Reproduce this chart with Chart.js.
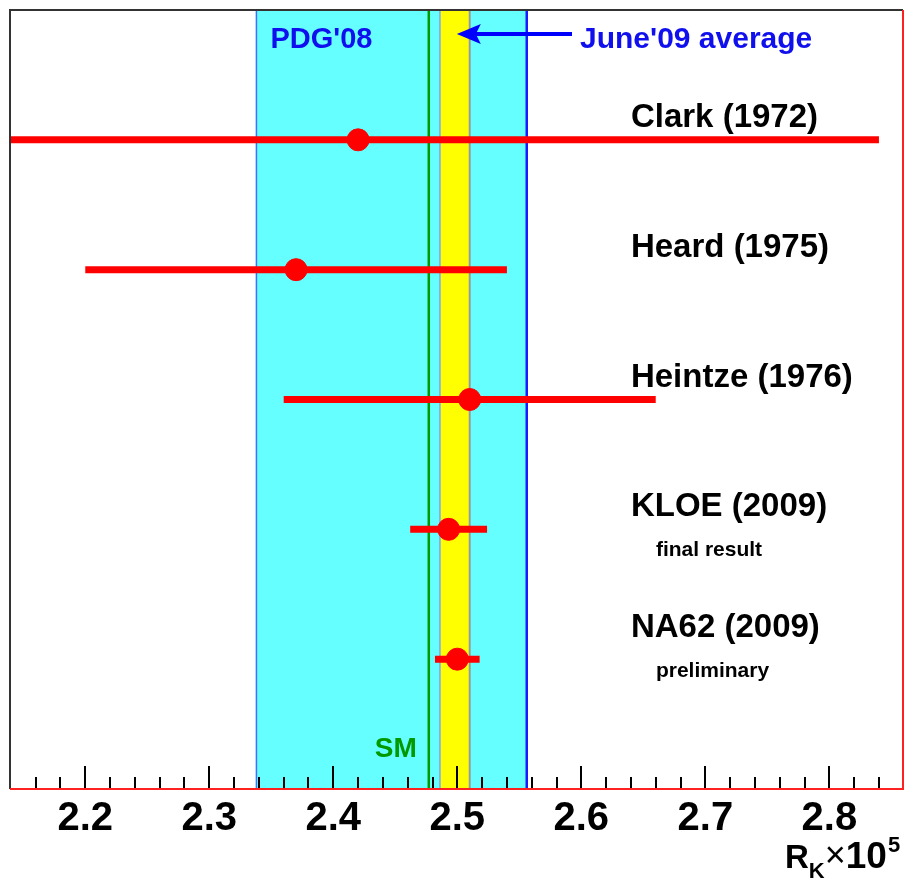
<!DOCTYPE html>
<html>
<head>
<meta charset="utf-8">
<script src="https://cdn.jsdelivr.net/npm/chart.js@4.4.0/dist/chart.umd.min.js"></script>
<style>
html, body { margin: 0; padding: 0; background: #ffffff; }
canvas { display: block; }
</style>
</head>
<body>
<canvas id="myChart" width="905" height="881"></canvas>
<script>
// measurements of R_K x 10^5, top row first
var experiments = ["Clark (1972)", "Heard (1975)", "Heintze (1976)", "KLOE (2009)", "NA62 (2009)"];
var notes = ["", "", "", "final result", "preliminary"];
var rkValues = [2.42, 2.37, 2.51, 2.493, 2.500];
var rkErrors = [0.42, 0.17, 0.15, 0.031, 0.018];

var pdgBand = [2.338, 2.556];      // PDG'08
var averageBand = [2.486, 2.510];  // June'09 average
var averageValue = 2.498;
var smValue = 2.477;

var tickValues = [2.2, 2.3, 2.4, 2.5, 2.6, 2.7, 2.8];
var tickLabels = ["2.2", "2.3", "2.4", "2.5", "2.6", "2.7", "2.8"];
var xRange = [2.1393, 2.8594];

var FONT = "'Liberation Sans', Arial, Helvetica, sans-serif";

function rowOf(i) {
    return experiments.length - i;
}

var pointData = rkValues.map(function (v, i) {
    return { x: v, y: rowOf(i) };
});

var datasets = [{
    type: 'scatter',
    data: pointData,
    backgroundColor: '#ff0000',
    borderColor: '#ff0000',
    pointRadius: 11,
    pointHoverRadius: 11,
    order: 0,
    clip: 0
}];

rkValues.forEach(function (v, i) {
    datasets.push({
        type: 'line',
        data: [{ x: v - rkErrors[i], y: rowOf(i) }, { x: v + rkErrors[i], y: rowOf(i) }],
        borderColor: '#ff0000',
        borderWidth: 7,
        borderCapStyle: 'butt',
        pointRadius: 0,
        showLine: true,
        order: 1,
        clip: 0
    });
});

var bandsPlugin = {
    id: 'bands',
    beforeDatasetsDraw: function (chart) {
        var ctx = chart.ctx, a = chart.chartArea, x = chart.scales.x;
        var h = a.bottom - a.top;
        ctx.save();
        ctx.beginPath();
        ctx.rect(a.left, a.top, a.right - a.left, h);
        ctx.clip();

        var l = x.getPixelForValue(pdgBand[0]), r = x.getPixelForValue(pdgBand[1]);
        ctx.fillStyle = '#66ffff';
        ctx.fillRect(l, a.top, r - l, h);
        ctx.lineWidth = 1.5;
        ctx.strokeStyle = '#3f6fff';
        ctx.beginPath(); ctx.moveTo(l, a.top); ctx.lineTo(l, a.bottom); ctx.stroke();
        ctx.lineWidth = 2.5;
        ctx.strokeStyle = '#1a1aff';
        ctx.beginPath(); ctx.moveTo(r, a.top); ctx.lineTo(r, a.bottom); ctx.stroke();

        var yl = x.getPixelForValue(averageBand[0]), yr = x.getPixelForValue(averageBand[1]);
        ctx.fillStyle = '#ffff00';
        ctx.fillRect(yl, a.top, yr - yl, h);
        ctx.lineWidth = 1.5;
        ctx.strokeStyle = '#7fa0ff';
        ctx.beginPath(); ctx.moveTo(yl, a.top); ctx.lineTo(yl, a.bottom); ctx.stroke();
        ctx.strokeStyle = '#999999';
        ctx.lineWidth = 2;
        ctx.beginPath(); ctx.moveTo(yr, a.top); ctx.lineTo(yr, a.bottom); ctx.stroke();

        var s = x.getPixelForValue(smValue);
        ctx.strokeStyle = '#009a00';
        ctx.lineWidth = 2.5;
        ctx.beginPath(); ctx.moveTo(s, a.top); ctx.lineTo(s, a.bottom); ctx.stroke();
        ctx.restore();
    }
};

var framePlugin = {
    id: 'frame',
    afterDatasetsDraw: function (chart) {
        var ctx = chart.ctx, a = chart.chartArea, x = chart.scales.x, y = chart.scales.y;
        ctx.save();

        // tick marks drawn inside the frame, ROOT style
        ctx.strokeStyle = '#000000';
        ctx.lineWidth = 2;
        for (var v = 2.14; v <= xRange[1] + 1e-9; v += 0.02) {
            var vv = Math.round(v * 100) / 100;
            var major = Math.abs(vv * 10 - Math.round(vv * 10)) < 1e-6;
            var px = Math.round(x.getPixelForValue(vv));
            if (px <= a.left + 1 || px >= a.right - 1) continue;
            ctx.beginPath();
            ctx.moveTo(px, a.bottom);
            ctx.lineTo(px, a.bottom - (major ? 23 : 12));
            ctx.stroke();
        }

        // frame
        ctx.lineWidth = 2;
        ctx.strokeStyle = '#333333';
        ctx.beginPath();
        ctx.moveTo(a.left, a.bottom); ctx.lineTo(a.left, a.top); ctx.lineTo(a.right, a.top);
        ctx.stroke();
        ctx.strokeStyle = '#ff2020';
        ctx.beginPath();
        ctx.moveTo(a.right, a.top); ctx.lineTo(a.right, a.bottom); ctx.lineTo(a.left, a.bottom);
        ctx.stroke();

        // experiment labels
        ctx.fillStyle = '#000000';
        ctx.textAlign = 'left';
        ctx.textBaseline = 'alphabetic';
        var lx = x.getPixelForValue(2.64);
        experiments.forEach(function (name, i) {
            var py = y.getPixelForValue(rowOf(i));
            var lift = notes[i] === 'preliminary' ? 22 : 13;
            ctx.font = 'bold 33px ' + FONT;
            ctx.fillText(name, lx, py - lift);
            if (notes[i]) {
                ctx.font = 'bold 21px ' + FONT;
                ctx.fillText(notes[i], lx + 25, py - lift + 40);
            }
        });

        // PDG'08 label
        ctx.fillStyle = '#1010ee';
        ctx.font = 'bold 29px ' + FONT;
        ctx.fillText("PDG'08", x.getPixelForValue(pdgBand[0]) + 14, a.top + 38);

        // June'09 average with arrow
        var tip = x.getPixelForValue(averageValue) + 2;
        var ay = a.top + 24;
        ctx.strokeStyle = '#0000ff';
        ctx.fillStyle = '#0000ff';
        ctx.lineWidth = 4;
        ctx.beginPath(); ctx.moveTo(tip + 15, ay); ctx.lineTo(572, ay); ctx.stroke();
        ctx.beginPath();
        ctx.moveTo(tip, ay); ctx.lineTo(tip + 24, ay - 10); ctx.lineTo(tip + 19, ay); ctx.lineTo(tip + 24, ay + 10);
        ctx.closePath(); ctx.fill();
        ctx.fillStyle = '#1010ee';
        ctx.font = 'bold 30px ' + FONT;
        ctx.fillText("June'09 average", 580, a.top + 38);

        // SM label
        ctx.fillStyle = '#009a00';
        ctx.font = 'bold 28px ' + FONT;
        ctx.textAlign = 'right';
        ctx.fillText('SM', x.getPixelForValue(smValue) - 12, a.bottom - 32);

        // axis title R_K x 10^5
        ctx.textAlign = 'left';
        ctx.fillStyle = '#000000';
        var tx = 785, ty = 868;
        ctx.font = 'bold 33px ' + FONT;
        ctx.fillText('R', tx, ty); tx += ctx.measureText('R').width;
        ctx.font = 'bold 22px ' + FONT;
        ctx.fillText('K', tx, ty + 10); tx += ctx.measureText('K').width;
        ctx.font = '36px ' + FONT;
        ctx.fillText('\u00d7', tx, ty - 1); tx += ctx.measureText('\u00d7').width;
        ctx.font = 'bold 37px ' + FONT;
        ctx.fillText('10', tx, ty); tx += ctx.measureText('10').width + 1;
        ctx.font = 'bold 22px ' + FONT;
        ctx.fillText('5', tx, ty - 16);

        ctx.restore();
    }
};

var ctx = document.getElementById("myChart").getContext('2d');
var rkChart = new Chart(ctx, {
    data: { datasets: datasets },
    plugins: [bandsPlugin, framePlugin],
    options: {
        responsive: false,
        animation: false,
        events: [],
        layout: { autoPadding: false, padding: { left: 10, top: 10, right: 2, bottom: 0 } },
        plugins: {
            legend: { display: false },
            tooltip: { enabled: false },
            title: { display: false }
        },
        scales: {
            x: {
                type: 'linear',
                min: xRange[0],
                max: xRange[1],
                border: { display: false },
                grid: { display: false, drawTicks: false },
                afterBuildTicks: function (scale) {
                    scale.ticks = tickValues.map(function (v) { return { value: v }; });
                },
                afterFit: function (scale) {
                    scale.height = 92;
                    scale.paddingLeft = 0;
                    scale.paddingRight = 0;
                },
                ticks: {
                    padding: 6,
                    color: '#000000',
                    maxRotation: 0,
                    autoSkip: false,
                    font: { family: FONT, size: 40, weight: 'bold' },
                    callback: function (value) {
                        var k = tickValues.indexOf(Math.round(value * 10) / 10);
                        return k >= 0 ? tickLabels[k] : '';
                    }
                }
            },
            y: {
                type: 'linear',
                display: false,
                min: 0,
                max: 6
            }
        }
    }
});
</script>
</body>
</html>
